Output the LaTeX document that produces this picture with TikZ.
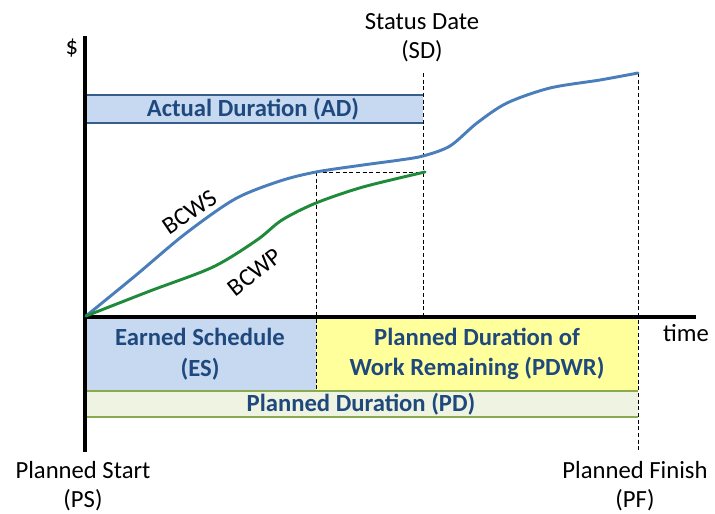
\documentclass[tikz,border=0pt]{standalone}
\usepackage{fontspec}
\setmainfont{Carlito}
\definecolor{bluefill}{HTML}{C6D9F1}
\definecolor{blueline}{HTML}{4A7EBB}
\definecolor{blueedge}{HTML}{385D8A}
\definecolor{greencurve}{HTML}{1F8A3A}
\definecolor{yellowfill}{HTML}{FFFF9C}
\definecolor{pdfill}{HTML}{EEF3E2}
\definecolor{pdedge}{HTML}{8AAA50}
\definecolor{labelblue}{HTML}{1F497D}
\begin{document}
\begin{tikzpicture}[x=0.75pt,y=-0.75pt,
  lbl/.style={font=\fontsize{18.5}{22}\selectfont, text=black, inner sep=0pt, align=center},
  boxlbl/.style={font=\fontsize{18.5}{23}\selectfont\bfseries, text=labelblue, inner sep=0pt, align=center},
  axisline/.style={line width=2.3pt, black},
  guide/.style={dashed, dash pattern=on 3pt off 2pt, line width=0.7pt, black},
  curveline/.style={line width=2.2pt, line cap=round, line join=round}]
\useasboundingbox (0,0) rectangle (715,514);

% boxes
\fill[bluefill] (85,95) rectangle (423,123);
\draw[blueedge, line width=1.1pt] (85,95) -- (423,95) (85,123) -- (423,123);
\node[boxlbl] (ad) at (253,109) {Actual Duration (AD)};

\fill[bluefill] (85,318) rectangle (316,391);
\node[boxlbl] (es) at (200,354) {Earned Schedule\\(ES)};
\fill[yellowfill] (316,318) rectangle (638,391);
\node[boxlbl] (pdwr) at (477,354) {Planned Duration of\\Work Remaining (PDWR)};
\fill[pdfill] (85,391) rectangle (638,417);
\draw[pdedge, line width=1.1pt] (85,391) -- (638,391) (85,417) -- (638,417);
\node[boxlbl] (pd) at (361,404) {Planned Duration (PD)};

% coordinates
\coordinate (origin) at (85,317);
\coordinate (ytop) at (85,36);
\coordinate (ybot) at (85,452);
\coordinate (xend) at (696,317);
\coordinate (sdtop) at (423,73);
\coordinate (sdbot) at (423,317);
\coordinate (pftop) at (638,73);
\coordinate (pfbot) at (638,452);
\coordinate (estop) at (316,172);
\coordinate (esbot) at (316,391);
\coordinate (sdp) at (423,172);

% dashed guides
\draw[guide] (sdtop) -- (sdbot);
\draw[guide] (pftop) -- (pfbot);
\draw[guide] (estop) -- (esbot);
\draw[guide] (estop) -- (sdp);

% axes
\draw[axisline] (ytop) -- (ybot);
\draw[axisline] (origin) -- (xend);

% curves
\draw[curveline, blueline] plot[smooth, tension=0.5] coordinates {
  (86,316) (135,276) (185,234) (235,199) (280,181) (316,172) (363,165)
  (400,160) (423,156) (450,146) (477,123) (507,103) (550,88) (600,80) (638,73)};
\draw[curveline, greencurve] plot[smooth, tension=0.5] coordinates {
  (86,316) (150,291) (213,267) (257,240) (282,220) (316,203) (363,187) (425,172)};

% labels
\node[lbl, rotate=34] (bcws) at (190,212) {BCWS};
\node[lbl, rotate=38] (bcwp) at (255,272) {BCWP};
\node[lbl] (dollar) at (72,48) {\$};
\node[lbl] (sd) at (422,38) {Status Date\\(SD)};
\node[lbl] (time) at (686,333) {time};
\node[lbl] (ps) at (83,486) {Planned Start\\(PS)};
\node[lbl] (pf) at (635,486) {Planned Finish\\(PF)};
\end{tikzpicture}
\end{document}
